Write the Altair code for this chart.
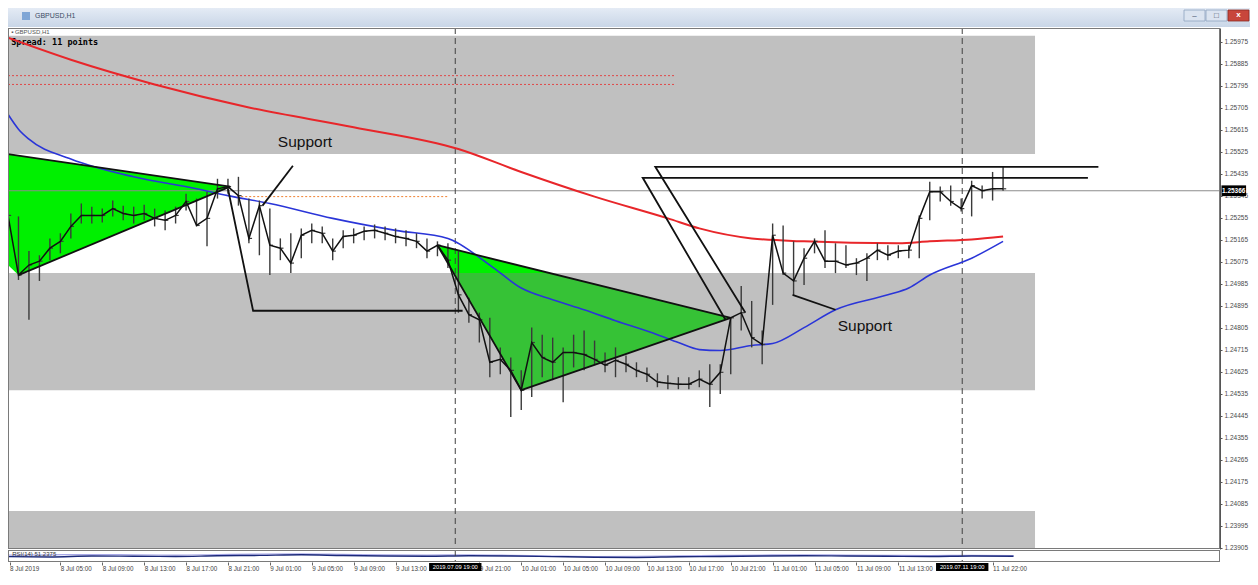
import altair as alt
import pandas as pd

# ---------------- data (prices in 1e-5 units, x in bar index) ----------------
bar_close = [125265, 125021, 125062, 125078, 125131, 125159, 125220, 125265, 125265, 125265,
             125293, 125273, 125265, 125273, 125253, 125245, 125265, 125322, 125224, 125253,
             125374, 125383, 125346, 125171, 125305, 125143, 125131, 125070, 125184, 125204,
             125192, 125119, 125179, 125184, 125200, 125204, 125192, 125179, 125171, 125159,
             125119, 125143, 125082, 124940, 124859, 124838, 124664, 124676, 124631, 124550,
             124745, 124684, 124664, 124704, 124704, 124696, 124676, 124652, 124672, 124656,
             124631, 124615, 124583, 124578, 124574, 124574, 124595, 124574, 124623, 124846,
             124867, 124765, 124737, 125184, 125029, 124997, 125090, 125159, 125078, 125078,
             125062, 125070, 125090, 125123, 125102, 125119, 125123, 125253, 125362, 125362,
             125322, 125293, 125387, 125366, 125374, 125374]
bar_high = [125301, 125261, 125119, 125102, 125171, 125192, 125273, 125314, 125301, 125293,
            125326, 125305, 125301, 125309, 125293, 125285, 125301, 125354, 125334, 125362,
            125415, 125415, 125423, 125334, 125326, 125293, 125171, 125192, 125212, 125232,
            125220, 125171, 125204, 125212, 125220, 125228, 125220, 125212, 125204, 125192,
            125171, 125159, 125151, 125119, 124928, 124867, 124846, 124725, 124684, 124631,
            124806, 124777, 124765, 124725, 124777, 124794, 124753, 124704, 124725, 124692,
            124664, 124643, 124619, 124611, 124603, 124603, 124631, 124656, 124656, 124846,
            124976, 124915, 124794, 125232, 125224, 125159, 125131, 125171, 125204, 125151,
            125143, 125090, 125110, 125151, 125143, 125143, 125143, 125265, 125403, 125383,
            125387, 125334, 125407, 125387, 125443, 125464]
bar_low = [125204, 125001, 124838, 124997, 125082, 125110, 125171, 125232, 125232, 125236,
           125261, 125245, 125232, 125245, 125220, 125204, 125232, 125285, 125220, 125139,
           125334, 125354, 125305, 125151, 125102, 125021, 125082, 125029, 125090, 125151,
           125151, 125082, 125131, 125151, 125163, 125171, 125163, 125151, 125139, 125131,
           125090, 125098, 125050, 124867, 124826, 124745, 124603, 124615, 124440, 124469,
           124522, 124603, 124591, 124501, 124643, 124631, 124656, 124623, 124603, 124623,
           124603, 124583, 124562, 124554, 124554, 124554, 124562, 124481, 124534, 124615,
           124794, 124725, 124656, 124899, 125021, 124940, 124980, 125110, 125050, 125029,
           125050, 125021, 124997, 125082, 125082, 125090, 125090, 125090, 125245, 125322,
           125305, 125281, 125261, 125334, 125326, 125366]

ma_red_x = [0, 6, 14, 23, 33, 43, 49, 56, 63, 66, 71, 76, 85, 88, 92, 95]
ma_red = [125992, 125902, 125801, 125707, 125626, 125537, 125443, 125342, 125253, 125212,
          125171, 125159, 125151, 125159, 125167, 125179]
ma_blue_x = [0, 1, 2, 6, 12, 18, 21, 25, 31, 37, 42, 46, 49, 52, 55, 58, 62, 64, 66, 68,
             71, 73, 76, 79, 84, 86, 88, 92, 95]
ma_blue = [125679, 125618, 125577, 125496, 125423, 125374, 125346, 125314, 125253, 125204,
           125171, 125062, 124968, 124920, 124879, 124834, 124777, 124745, 124716, 124712,
           124733, 124741, 124806, 124879, 124940, 124968, 125021, 125090, 125159]

# supply / demand zones (grey rectangles)
zone_x0 = [0, 0, 0]
zone_x1 = [98.05, 98.05, 98.05]
zone_lo = [125516, 124550, 123900]
zone_hi = [126000, 125029, 124055]

# triangles (top / bottom edges)
tri1_x = [0, 1, 21.2]
tri1_top = [125516, 125510, 125383]
tri1_bot = [125062, 125021, 125383]
tri2_x = [41, 49, 69]
tri2_top = [125143, 125058, 124846]
tri2_bot = [125143, 124550, 124846]
tri2b_x = [41, 42.53, 51.74]
tri2b_top = [125143, 125127, 125029]
tri2b_bot = [125143, 125029, 125029]

# hand-drawn trend lines
obj_id = ["t1a", "t1a", "t1b", "t1b", "t2a", "t2a", "t2b", "t2b", "t2b",
          "sup1", "sup1", "step", "step", "step",
          "chA", "chA", "chA", "chB", "chB", "chB", "sup2", "sup2"]
obj_x = [0, 21.2, 1, 21.2, 41, 69, 41, 49, 69,
         27.2, 24.3, 21.0, 23.4, 43.4,
         103.1, 60.6, 68.5, 104.1, 61.8, 70.4, 74.9, 79.0]
obj_p = [125516, 125383, 125021, 125383, 125143, 124846, 125143, 124550, 124846,
         125468, 125305, 125374, 124875, 124875,
         125419, 125419, 124838, 125464, 125464, 124867, 124940, 124879]

label_text = ["Support", "Support"]
label_x = [28.35, 81.8]
label_p = [125565, 124814]

red_dot_p = [125837, 125801]
bid_price = 125366
separators = [42.7, 91.1]
separator_text = ["2019.07.09 19:00", "2019.07.11 19:00"]

price_ticks = [125975, 125885, 125795, 125705, 125615, 125525, 125435, 125345, 125255, 125165,
               125075, 124985, 124895, 124805, 124715, 124625, 124535, 124445, 124355, 124265,
               124175, 124085, 123995, 123905]
time_ticks = [0.15, 5, 9, 13, 17, 21, 25, 29, 33, 37, 45, 49, 53, 57, 61, 65, 69, 73, 77, 81, 85, 94]
time_labels = ["8 Jul 2019", "8 Jul 05:00", "8 Jul 09:00", "8 Jul 13:00", "8 Jul 17:00",
               "8 Jul 21:00", "9 Jul 01:00", "9 Jul 05:00", "9 Jul 09:00", "9 Jul 13:00",
               "9 Jul 21:00", "10 Jul 01:00", "10 Jul 05:00", "10 Jul 09:00", "10 Jul 13:00",
               "10 Jul 17:00", "10 Jul 21:00", "11 Jul 01:00", "11 Jul 05:00", "11 Jul 09:00",
               "11 Jul 13:00", "11 Jul 22:00"]

ind_x = [0, 4, 8, 12, 16, 20, 24, 28, 32, 36, 40, 44, 48, 52, 56, 60, 64, 68, 72, 76, 80, 84, 88, 92, 96]
ind_main = [45, 42, 50, 48, 46, 52, 55, 60, 54, 50, 48, 52, 50, 45, 40, 38, 44, 46, 50, 52, 50, 48, 46, 50, 48]
ind_sig = [58, 60, 62, 60, 58, 62, 66, 68, 64, 60, 58, 60, 56, 50, 46, 48, 52, 55, 58, 60, 58, 56, 54, 56, 54]

# ---------------- scales / helpers ----------------
W = 1212
H = 521
XMAX = 115.71
XS = alt.Scale(domain=[0, XMAX], nice=False, zero=False, padding=0)
YS = alt.Scale(domain=[123900, 126032], nice=False, zero=False, padding=0)
YAX = alt.Axis(orient="right", values=price_ticks, title=None, grid=False,
               labelExpr="format(datum.value/100000, '.5f')", tickSize=2, tickColor="#555555",
               domainColor="#555555", labelFontSize=6.5, labelFont="Liberation Sans",
               labelColor="#4a4a4a", labelPadding=2, labelOverlap=False, labelFlush=False)


def X(f):
    return alt.X(f, type="quantitative", scale=XS, axis=None)


def Y(f):
    return alt.Y(f, type="quantitative", scale=YS, axis=YAX)


bars = pd.DataFrame({"i": list(range(len(bar_close))), "c": bar_close, "h": bar_high, "l": bar_low})
zones = pd.DataFrame({"x0": zone_x0, "x1": zone_x1, "lo": zone_lo, "hi": zone_hi})
t1 = pd.DataFrame({"x": tri1_x, "top": tri1_top, "bot": tri1_bot})
t2 = pd.DataFrame({"x": tri2_x, "top": tri2_top, "bot": tri2_bot})
t2b = pd.DataFrame({"x": tri2b_x, "top": tri2b_top, "bot": tri2b_bot})
objs = pd.DataFrame({"id": obj_id, "x": obj_x, "p": obj_p, "k": list(range(len(obj_id)))})
labels = pd.DataFrame({"t": label_text, "x": label_x, "p": label_p})
red = pd.DataFrame({"x": ma_red_x, "p": ma_red})
blue = pd.DataFrame({"x": ma_blue_x, "p": ma_blue})
reddots = pd.DataFrame({"p": red_dot_p, "x0": [0, 0], "x1": [63.7, 63.7]})
orange = pd.DataFrame({"p": [125342], "x0": [21.5], "x1": [42.0]})
bid = pd.DataFrame({"p": [bid_price], "x0": [0], "x1": [XMAX]})
seps = pd.DataFrame({"x": separators, "t": separator_text})
info = pd.DataFrame({"t": ["Spread: 11 points"], "x": [0.3], "p": [125975]})
sym = pd.DataFrame({"t": ["\u25aa GBPUSD,H1"], "x": [0.3], "p": [126016]})
one = pd.DataFrame({"a": [0]})

layers = [
    alt.Chart(zones).mark_rect(color="#c0c0c0", clip=True).encode(
        x=X("x0"), x2=alt.X2("x1"), y=Y("lo"), y2=alt.Y2("hi")),
    alt.Chart(t1).mark_area(color="#00f000", opacity=1, clip=True).encode(x=X("x"), y=Y("top"), y2=alt.Y2("bot")),
    alt.Chart(t2).mark_area(color="#36c236", opacity=1, clip=True).encode(x=X("x"), y=Y("top"), y2=alt.Y2("bot")),
    alt.Chart(t2b).mark_area(color="#00f000", opacity=1, clip=True).encode(x=X("x"), y=Y("top"), y2=alt.Y2("bot")),
    alt.Chart(reddots).mark_rule(color="#e04848", strokeWidth=1, strokeDash=[2, 2], clip=True).encode(
        x=X("x0"), x2=alt.X2("x1"), y=Y("p")),
    alt.Chart(orange).mark_rule(color="#f08030", strokeWidth=1, strokeDash=[2, 2], clip=True).encode(
        x=X("x0"), x2=alt.X2("x1"), y=Y("p")),
    alt.Chart(bid).mark_rule(color="#8c8c8c", strokeWidth=1, clip=True).encode(
        x=X("x0"), x2=alt.X2("x1"), y=Y("p")),
    alt.Chart(seps).mark_rule(color="#404040", strokeWidth=1, strokeDash=[6, 4], clip=True).encode(x=X("x")),
    alt.Chart(info).mark_text(align="left", baseline="middle", font="DejaVu Sans Mono", fontSize=8.5,
                              fontWeight="bold", color="#000000").encode(x=X("x"), y=Y("p"), text="t:N"),
    alt.Chart(sym).mark_text(align="left", baseline="middle", font="Liberation Sans", fontSize=6,
                             color="#555555").encode(x=X("x"), y=Y("p"), text="t:N"),
    alt.Chart(red).mark_line(color="#e8262a", strokeWidth=2, interpolate="monotone", clip=True).encode(
        x=X("x"), y=Y("p")),
    alt.Chart(blue).mark_line(color="#2a35d8", strokeWidth=1.6, interpolate="monotone", clip=True).encode(
        x=X("x"), y=Y("p")),
    alt.Chart(bars).mark_rule(color="#3a3a3a", strokeWidth=1.4, clip=True).encode(
        x=X("i"), y=Y("l"), y2=alt.Y2("h")),
    alt.Chart(bars).transform_calculate(i2="datum.i + 0.3").mark_rule(
        color="#3a3a3a", strokeWidth=1.2, clip=True).encode(x=X("i"), x2=alt.X2("i2"), y=Y("c")),
    alt.Chart(bars).mark_line(color="#111111", strokeWidth=1.5, clip=True).encode(x=X("i"), y=Y("c")),
    alt.Chart(objs).mark_line(color="#111111", strokeWidth=1.8, clip=True).encode(
        x=X("x"), y=Y("p"), detail="id:N", order="k:Q"),
    alt.Chart(labels).mark_text(font="Liberation Sans", fontSize=15.5, color="#111111").encode(
        x=X("x"), y=Y("p"), text="t:N"),
    alt.Chart(one).mark_rect(fill="transparent", stroke="#7a7a7a", strokeWidth=2, clip=True).encode(
        x=alt.value(0), x2=alt.value(W), y=alt.value(0), y2=alt.value(H)),
    alt.Chart(bid).transform_calculate(a="115.85", b="118.2", lo="datum.p - 22", hi="datum.p + 22").mark_rect(
        color="#000000").encode(x=X("a:Q"), x2=alt.X2("b:Q"), y=Y("lo:Q"), y2=alt.Y2("hi:Q")),
    alt.Chart(bid).transform_calculate(m="117.02", t="format(datum.p/100000, '.5f')").mark_text(
        color="#ffffff", fontSize=6.5, font="Liberation Sans", fontWeight="bold", baseline="middle").encode(
        x=X("m:Q"), y=Y("p"), text="t:N"),
]

main = alt.layer(*layers).properties(
    width=W, height=H, view=alt.ViewBackground(fill="#ffffff", stroke="transparent", strokeWidth=0))

# ---------------- indicator sub-window with time axis ----------------
tick_list = "[" + ",".join(str(t) for t in time_ticks) + "]"
lab_list = "[" + ",".join("'" + s + "'" for s in time_labels) + "]"
lab_expr = lab_list + "[indexof(" + tick_list + ", datum.value)]"
XAX = alt.Axis(values=time_ticks, labelExpr=lab_expr, title=None, grid=False, labelAlign="left",
               labelFontSize=6.3, labelFont="Liberation Sans", labelColor="#444444", tickSize=3,
               tickColor="#666666", domain=False, labelPadding=0, labelOverlap=False,
               labelFlush=False)
IYS = alt.Scale(domain=[0, 100], nice=False, zero=False)
IH = 12


def XI(f):
    return alt.X(f, type="quantitative", scale=XS, axis=XAX)


ind = pd.DataFrame({"x": ind_x, "m": ind_main, "s": ind_sig})
ind_lab = pd.DataFrame({"t": ["RSI(14) 51.2375"], "x": [0.4]})
ind_layers = [
    alt.Chart(ind).mark_line(color="#a9a9e8", strokeWidth=1.2, interpolate="monotone", clip=True).encode(
        x=XI("x"), y=alt.Y("s:Q", scale=IYS, axis=None)),
    alt.Chart(ind).mark_line(color="#1c2a7a", strokeWidth=1.4, interpolate="monotone", clip=True).encode(
        x=XI("x"), y=alt.Y("m:Q", scale=IYS, axis=None)),
    alt.Chart(seps).mark_rule(color="#404040", strokeWidth=1, strokeDash=[6, 4], clip=True).encode(x=XI("x")),
    alt.Chart(ind_lab).mark_text(align="left", baseline="top", fontSize=6, font="Liberation Sans",
                                 color="#333333").encode(x=XI("x"), y=alt.value(1), text="t:N"),
    alt.Chart(one).mark_rect(fill="transparent", stroke="#7a7a7a", strokeWidth=2, clip=True).encode(
        x=alt.value(0), x2=alt.value(W), y=alt.value(0), y2=alt.value(IH)),
    alt.Chart(seps).transform_calculate(a="datum.x - 2.5", b="datum.x + 2.5").mark_rect(color="#000000").encode(
        x=XI("a:Q"), x2=alt.X2("b:Q"), y=alt.value(13), y2=alt.value(21)),
    alt.Chart(seps).mark_text(color="#ffffff", fontSize=5.8, font="Liberation Sans", baseline="middle").encode(
        x=XI("x"), y=alt.value(17), text="t:N"),
]
indicator = alt.layer(*ind_layers).properties(
    width=W, height=IH, view=alt.ViewBackground(fill="#ffffff", stroke="transparent", strokeWidth=0))

# ---------------- window title bar ----------------
grad = alt.Gradient(gradient="linear", stops=[alt.GradientStop(color="#e4ebf5", offset=0),
                                              alt.GradientStop(color="#c9d6e7", offset=1)],
                    x1=0, x2=0, y1=0, y2=1)
btn = pd.DataFrame({"x0": [1176, 1198], "x1": [1197, 1219], "g": ["\u2013", "\u25a1"]})
TX = alt.Scale(domain=[0, 1242], nice=False, zero=False)
title_layers = [
    alt.Chart(one).mark_rect(color=grad).encode(x=alt.value(0), x2=alt.value(1242), y=alt.value(0), y2=alt.value(19)),
    alt.Chart(one).mark_rect(color="#7fa6d6").encode(x=alt.value(14), x2=alt.value(22), y=alt.value(4), y2=alt.value(12)),
    alt.Chart(one).mark_text(text="GBPUSD,H1", align="left", baseline="middle", fontSize=7,
                             font="Liberation Sans", color="#3b4b63").encode(x=alt.value(27), y=alt.value(8)),
    alt.Chart(btn).mark_rect(color="#dbe4f0", stroke="#8ea2bf", strokeWidth=0.8).encode(
        x=alt.X("x0:Q", scale=TX, axis=None), x2="x1:Q", y=alt.value(2), y2=alt.value(13)),
    alt.Chart(btn).transform_calculate(xm="(datum.x0 + datum.x1) / 2").mark_text(
        fontSize=8, color="#3b4b63", baseline="middle").encode(
        x=alt.X("xm:Q", scale=TX, axis=None), y=alt.value(7.5), text="g:N"),
    alt.Chart(one).mark_rect(color="#c8463b", stroke="#8a2a22", strokeWidth=0.8).encode(
        x=alt.value(1220), x2=alt.value(1241), y=alt.value(2), y2=alt.value(13)),
    alt.Chart(one).mark_text(text="x", fontSize=8, fontWeight="bold", color="#ffffff", baseline="middle").encode(
        x=alt.value(1230.5), y=alt.value(7)),
]
titlebar = alt.layer(*title_layers).properties(
    width=1242, height=19, view=alt.ViewBackground(fill="#dfe7f2", strokeWidth=0, stroke="transparent"))

chart = alt.vconcat(titlebar, main, indicator, spacing=1, bounds="flush").properties(
    padding=0, background="#ffffff")

chart.save("out.html", embed_options={"renderer": "svg", "actions": False})
